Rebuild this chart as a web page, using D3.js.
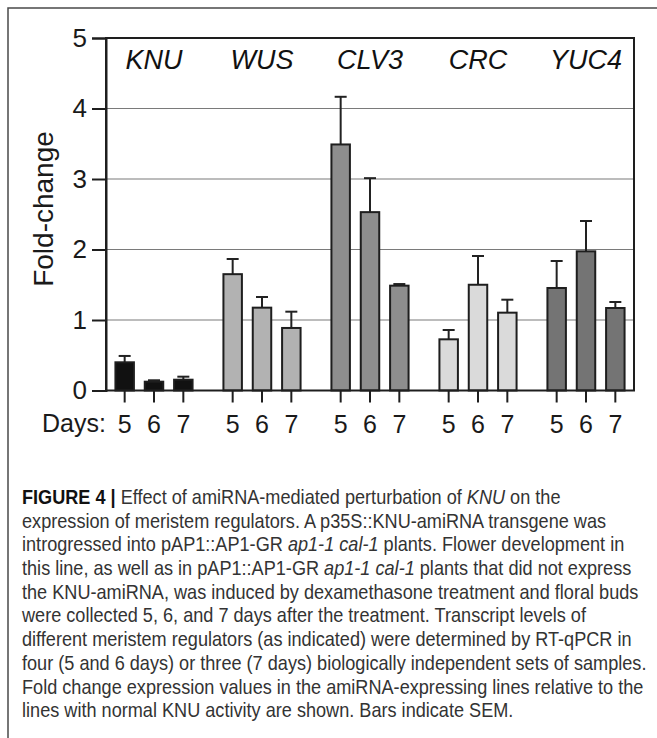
<!DOCTYPE html>
<html>
<head>
<meta charset="utf-8">
<script src="https://cdn.jsdelivr.net/npm/d3@7"></script>
<style>
  body { margin: 0; background: #fff; }
</style>
</head>
<body>
<div id="canvas"></div>
<script>
// fold-change values
var genes = ['KNU', 'WUS', 'CLV3', 'CRC', 'YUC4'];
var days = ['5', '6', '7'];
var meanValues = [
    [0.40, 0.125, 0.153],
    [1.65, 1.175, 0.887],
    [3.49, 2.53, 1.487],
    [0.726, 1.50, 1.104],
    [1.454, 1.974, 1.17]
];
var semValues = [
    [0.09, 0.02, 0.043],
    [0.215, 0.151, 0.231],
    [0.676, 0.482, 0.023],
    [0.132, 0.408, 0.184],
    [0.383, 0.43, 0.085]
];
var yTicks = [0, 1, 2, 3, 4, 5];
var captionLines = [
    [['b', 'FIGURE 4 | '], ['', 'Effect of amiRNA-mediated perturbation of '], ['i', 'KNU'], ['', ' on the']],
    [['', 'expression of meristem regulators. A p35S::KNU-amiRNA transgene was']],
    [['', 'introgressed into pAP1::AP1-GR '], ['i', 'ap1-1 cal-1'], ['', ' plants. Flower development in']],
    [['', 'this line, as well as in pAP1::AP1-GR '], ['i', 'ap1-1 cal-1'], ['', ' plants that did not express']],
    [['', 'the KNU-amiRNA, was induced by dexamethasone treatment and floral buds']],
    [['', 'were collected 5, 6, and 7 days after the treatment. Transcript levels of']],
    [['', 'different meristem regulators (as indicated) were determined by RT-qPCR in']],
    [['', 'four (5 and 6 days) or three (7 days) biologically independent sets of samples.']],
    [['', 'Fold change expression values in the amiRNA-expressing lines relative to the']],
    [['', 'lines with normal KNU activity are shown. Bars indicate SEM.']]
];

var barColors = ['#111111', '#b2b2b2', '#8e8e8e', '#dadada', '#747474'];
var svgWidth = 657;
var svgHeight = 738;
var plotLeft = 106, plotRight = 634, plotTop = 38, plotBottom = 390.5;
var chartFont = '"Liberation Sans", Arial, Helvetica, sans-serif';

var svg = d3.select('#canvas')
    .append('svg')
    .attr('width', svgWidth)
    .attr('height', svgHeight)
    .style('display', 'block');

// figure frame (top + left only)
svg.append('path')
    .attr('d', 'M8,' + svgHeight + 'V8H' + svgWidth)
    .attr('fill', 'none')
    .attr('stroke', '#4a4a4a')
    .attr('stroke-width', 1.5);

var y = d3.scaleLinear().domain([0, 5]).range([plotBottom, plotTop]);
var x0 = d3.scaleBand().domain(genes).range([plotLeft - 6, plotRight + 6]);
var x1 = d3.scaleBand().domain(days).range([10, x0.bandwidth() - 10])
    .paddingInner(0.37).paddingOuter(0.185);

// gridlines
svg.append('g')
    .selectAll('line')
    .data(yTicks.slice(1, -1))
    .enter().append('line')
    .attr('x1', plotLeft)
    .attr('x2', plotRight)
    .attr('y1', function(d) { return y(d); })
    .attr('y2', function(d) { return y(d); })
    .attr('stroke', '#7a7a7a')
    .attr('stroke-width', 1.2);

// bars + error bars
genes.forEach(function(gene, gi) {
    var g = svg.append('g').attr('transform', 'translate(' + x0(gene) + ',0)');
    days.forEach(function(day, di) {
        var m = meanValues[gi][di];
        var top = m + semValues[gi][di];
        var cx = x1(day) + x1.bandwidth() / 2;
        g.append('line')
            .attr('x1', cx).attr('x2', cx)
            .attr('y1', y(m)).attr('y2', y(top))
            .attr('stroke', '#222').attr('stroke-width', 2);
        g.append('line')
            .attr('x1', cx - 6).attr('x2', cx + 6)
            .attr('y1', y(top)).attr('y2', y(top))
            .attr('stroke', '#222').attr('stroke-width', 2);
        g.append('rect')
            .attr('x', x1(day))
            .attr('y', y(m))
            .attr('width', x1.bandwidth())
            .attr('height', y(0) - y(m))
            .attr('fill', barColors[gi])
            .attr('stroke', '#1e1e1e')
            .attr('stroke-width', 2);
    });
    // day ticks under each group
    var ax = g.append('g')
        .attr('transform', 'translate(0,' + plotBottom + ')')
        .call(d3.axisBottom(x1).tickSize(12).tickSizeOuter(0).tickPadding(13));
    ax.select('.domain').remove();
    ax.selectAll('line').attr('stroke', '#1e1e1e').attr('stroke-width', 2);
    ax.selectAll('text').attr('font-size', '25px').attr('font-family', chartFont).attr('fill', '#1a1a1a');

    svg.append('text')
        .attr('x', x0(gene) + x0.bandwidth() / 2)
        .attr('y', 69)
        .attr('text-anchor', 'middle')
        .attr('font-family', chartFont)
        .attr('font-style', 'italic')
        .attr('font-size', '27px')
        .attr('fill', '#111')
        .text(gene);
});

// plot box
svg.append('rect')
    .attr('x', plotLeft)
    .attr('y', plotTop)
    .attr('width', plotRight - plotLeft)
    .attr('height', plotBottom - plotTop)
    .attr('fill', 'none')
    .attr('stroke', '#1e1e1e')
    .attr('stroke-width', 2);

var yAxis = svg.append('g')
    .attr('transform', 'translate(' + plotLeft + ',0)')
    .call(d3.axisLeft(y).tickValues(yTicks).tickFormat(d3.format('d')).tickSize(14).tickPadding(5));
yAxis.select('.domain').attr('stroke', '#1e1e1e').attr('stroke-width', 2);
yAxis.selectAll('line').attr('stroke', '#1e1e1e').attr('stroke-width', 2);
yAxis.selectAll('text').attr('font-size', '26px').attr('font-family', chartFont).attr('fill', '#1a1a1a');

svg.append('text')
    .attr('transform', 'translate(53,209) rotate(-90)')
    .attr('text-anchor', 'middle')
    .attr('font-family', chartFont)
    .attr('font-size', '28px')
    .attr('fill', '#1a1a1a')
    .text('Fold-change');

svg.append('text')
    .attr('x', 42)
    .attr('y', 432)
    .attr('font-family', chartFont)
    .attr('font-size', '25px')
    .attr('fill', '#1a1a1a')
    .text('Days:');

// caption
var cap = svg.append('g')
    .attr('transform', 'translate(22,0) scale(0.93,1)')
    .attr('font-family', chartFont)
    .attr('font-size', '19.5px')
    .attr('fill', '#333');
captionLines.forEach(function(parts, i) {
    var t = cap.append('text').attr('x', 0).attr('y', 504 + i * 23.7);
    parts.forEach(function(p) {
        var s = t.append('tspan').text(p[1]);
        if (p[0] === 'b') s.attr('font-weight', 'bold').attr('fill', '#111');
        if (p[0] === 'i') s.attr('font-style', 'italic');
    });
});
</script>
</body>
</html>
